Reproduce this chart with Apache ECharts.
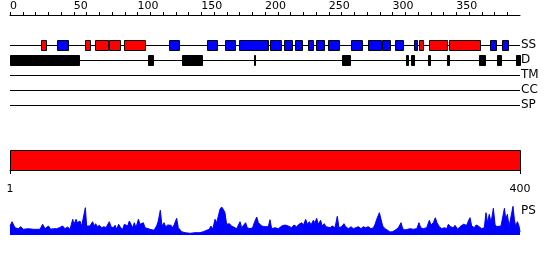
<!DOCTYPE html>
<html><head><meta charset="utf-8">
<script src="https://cdn.jsdelivr.net/npm/echarts@6/dist/echarts.min.js"></script>
<style>html,body{margin:0;padding:0;background:#fff}#c{width:550px;height:260px}</style>
</head><body><div id="c"></div>
<script>
const rulerLabels = [0, 50, 100, 150, 200, 250, 300, 350];
const rulerTicks = [0,10,20,30,40,50,60,70,80,90,100,110,120,130,140,150,160,170,180,190,200,210,220,230,240,250,260,270,280,290,300,310,320,330,340,350,360,370,380,390];
const trackNames = ['SS', 'D', 'TM', 'CC', 'SP'];
const helices = [[24.5,28],[59,63],[67,77],[77.6,86],[89.6,106],[321,324.2],[329,342.5],[344.5,369]];
const strands = [[37,45.3],[125,132.3],[154.7,162.1],[169,176.2],[179.8,202.1],[204,212.3],[215,221],[223.8,228.8],[234,237.4],[240,246],[249.6,258],[267.7,275.8],[280.8,291.2],[291.8,297.8],[302,308],[317,319],[376.7,381],[386,390.4]];
const disordered = [[0,54],[108,112],[135,150.6],[191,192.4],[260.4,266.4],[310.8,311.9],[314.3,317.1],[328,329.2],[343,344],[367.8,372.3],[381.7,385.1],[396.9,400]];
const domains = [[1,400]];
const domainAxisLabels = [1, 400];
const psPoints = [[0,9],[1.6,13.3],[3.9,7.3],[6.5,6.3],[8.4,8.3],[10.5,5.7],[14.4,6.3],[18.3,5.7],[23.5,5.7],[25.6,10.7],[27.5,6.3],[30.1,9],[31.9,5.7],[34,6.3],[36.6,6.3],[38.7,7.3],[41.3,9],[43.1,6.3],[45.2,8],[47.1,5.7],[49.2,15.7],[50.2,10.7],[51.8,15.7],[52.8,12.3],[54.9,14],[56.2,9],[57.5,10.7],[59.1,27.3],[60.1,9],[61.4,8.3],[62.7,9],[64.8,13.3],[66.1,9],[67.2,11.3],[68.5,8.3],[70.1,9.7],[71.9,7.3],[73.7,8.3],[75.3,7.3],[77.9,13.3],[79.2,8.3],[81,7.3],[82.4,9.7],[83.7,5.7],[85.2,10.7],[86.8,7.3],[88.4,5.7],[89.7,10.7],[91,11.3],[92.3,9],[93.6,14],[94.9,10.7],[96.2,7.3],[97.5,12.3],[98.8,7.3],[100.7,15.7],[102,10.7],[103.3,9],[104.6,12.3],[105.9,7.3],[107.2,5.7],[109.8,5.7],[111.1,4],[112.9,4.7],[115,9],[116.3,14],[117.9,24.7],[119.2,9],[120.8,12.3],[122.1,8.3],[123.7,10],[125,9],[126.3,9.7],[127.6,7.3],[128.9,10.7],[130.7,16.7],[132,7.3],[133.3,5.7],[134.6,3.3],[137.3,2.3],[141.2,1.7],[145.1,2.3],[149,2.3],[151.6,3.3],[154.2,4.7],[156.3,5.7],[157.6,9],[159,5.7],[160.8,15.7],[162.1,12.3],[163.4,14],[164.7,25.7],[166,28],[167.3,25.7],[168.6,22.3],[169.9,10.7],[172,11.3],[173.9,9],[175.2,7.3],[177.8,6.3],[179.1,7.3],[180.4,13.3],[181.7,7.3],[183,6.3],[184.8,12.3],[186.1,7.3],[188.2,6.3],[190.3,7.3],[191.6,12.3],[193.5,18],[194.8,12.3],[196.1,10.7],[197.4,9],[198.7,7.3],[200,8.3],[201.3,6.3],[202.6,8.3],[203.9,15.3],[205.2,6.3],[206.5,7.3],[207.8,7.3],[210.5,6.3],[213.1,9],[215.7,10],[218.3,9],[220.9,7.3],[222.7,10],[224.8,8.3],[226.7,10.7],[228.8,12.3],[230.1,9.7],[231.9,15.7],[233.2,10.7],[234.8,13.3],[236.1,10],[237.9,14.7],[239.2,12.3],[240.5,16.7],[241.8,10.7],[243.6,14.7],[244.9,9],[246.5,11.3],[247.8,8.3],[249.2,10],[251,7.3],[252.8,9],[254.9,7.3],[256.7,18.7],[258,7.3],[260.1,8.3],[261.9,11.3],[263.3,8.3],[265.4,6.3],[267.5,8.3],[269.3,6.3],[271.1,7.3],[273.2,8.3],[275.3,6.3],[277.1,8.3],[278.9,7.3],[281,8.3],[283.1,6.3],[285,7.3],[286.3,10.7],[287.6,15.7],[289.7,22.3],[291,15.7],[292.3,9],[294.1,6.3],[296.2,4.7],[298,3],[299.9,3.3],[302,4.7],[304.6,7.3],[306.7,12.3],[308,6.3],[309.8,5],[311.9,5.7],[313.7,6.3],[316.3,5.7],[319,6.3],[320.8,12.3],[322.1,7.3],[324.2,6.3],[326.8,7.3],[328.9,14.7],[330.2,10],[332,12.3],[333.6,17.3],[334.9,12.3],[336.7,8.3],[338.6,6.3],[340.7,7.3],[342.5,6.3],[343.8,10.7],[345.6,8.3],[347.7,7.3],[349,9.7],[351.1,5.7],[352.9,8.3],[354.2,9],[355.6,10.7],[356.9,12.3],[358.2,9.7],[359.5,14],[360.8,17.3],[362.1,9],[364.2,7.3],[365.5,10],[367.3,9],[368.6,8.3],[369.9,6.3],[372,7.3],[373.3,22.3],[374.6,12.3],[375.9,20.7],[377.3,12.3],[379.1,26.7],[380.4,10.7],[381.7,8.3],[383,7.3],[385.1,9],[386.4,8.3],[387.8,26.7],[388.8,15.7],[390.1,20.7],[391.4,8.3],[392.7,9],[394.5,28.7],[395.6,15.7],[396.6,8.3],[397.9,13.3],[398.8,10.7],[399.5,7.3],[400,3]];

const FONT = 'DejaVu Sans';
const chart = echarts.init(document.getElementById('c'), null, {renderer: 'canvas'});

function boxRenderer(fill, half) {
  return function (params, api) {
    const a = api.coord([api.value(0), api.value(2)]);
    const b = api.coord([api.value(1), api.value(2)]);
    const x0 = Math.round(a[0]) + 0.5;
    const x1 = Math.round(b[0]) + 0.5;
    const cy = Math.round(a[1]);
    return {
      type: 'rect',
      shape: {x: x0, y: cy - half + 0.5, width: Math.max(x1 - x0, 1), height: half * 2},
      style: {fill: fill, stroke: '#000', lineWidth: 1}
    };
  };
}
function lineRenderer(params, api) {
  const a = api.coord([api.value(0), api.value(2)]);
  const b = api.coord([api.value(1), api.value(2)]);
  const y = Math.round(a[1]) + 0.5;
  return {type: 'line', shape: {x1: a[0], y1: y, x2: b[0], y2: y}, style: {stroke: '#000', lineWidth: 1}};
}
function domainRenderer(params, api) {
  const a = api.coord([api.value(0), 1]);
  const b = api.coord([api.value(1), 0]);
  const x0 = Math.round(a[0]) + 0.5, x1 = Math.round(b[0]) + 0.5;
  const y0 = Math.round(a[1]) + 0.5, y1 = Math.round(b[1]) + 0.5;
  return {type: 'rect', shape: {x: x0, y: y0, width: x1 - x0, height: y1 - y0},
    style: {fill: '#ff0000', stroke: '#000', lineWidth: 1}};
}

const option = {
  animation: false,
  backgroundColor: '#fff',
  textStyle: {fontFamily: FONT},
  grid: [
    {left: 10, width: 510, top: 37.5, height: 75},
    {left: 10, width: 510, top: 150, height: 20},
    {left: 10, width: 510, top: 205, height: 30}
  ],
  xAxis: [
    {gridIndex: 0, type: 'value', position: 'top', offset: 22.5, min: 0, max: 400, interval: 10,
      axisLine: {show: true, lineStyle: {color: '#000', width: 1}},
      axisTick: {show: true, length: 3, customValues: rulerTicks, lineStyle: {color: '#000'}},
      axisLabel: {show: true, customValues: rulerLabels, align: 'left', margin: 3, color: '#000', fontSize: 11, fontFamily: FONT},
      splitLine: {show: false}},
    {gridIndex: 1, type: 'value', position: 'bottom', offset: 10, min: 1, max: 400,
      axisLine: {show: true, lineStyle: {color: '#000', width: 1}},
      axisTick: {show: true, length: 4, customValues: domainAxisLabels, lineStyle: {color: '#000'}},
      axisLabel: {show: true, customValues: domainAxisLabels, margin: 4, color: '#000', fontSize: 11, fontFamily: FONT},
      splitLine: {show: false}},
    {gridIndex: 2, type: 'value', min: 0, max: 400, show: false}
  ],
  yAxis: [
    {gridIndex: 0, type: 'category', data: trackNames, inverse: true, position: 'right',
      axisLine: {show: false}, axisTick: {show: false}, splitLine: {show: false},
      axisLabel: {show: true, interval: 0, hideOverlap: false, margin: 1, color: '#000', fontSize: 12, fontFamily: FONT}},
    {gridIndex: 1, type: 'value', min: 0, max: 1, show: false},
    {gridIndex: 2, type: 'value', min: 0, max: 30, show: false}
  ],
  graphic: [
    {type: 'text', left: 521, top: 205, style: {text: 'PS', fill: '#000', font: '12px "DejaVu Sans"'}}
  ],
  series: [
    {type: 'custom', xAxisIndex: 0, yAxisIndex: 0, z: 1, renderItem: lineRenderer,
      encode: {x: [0, 1], y: 2}, data: trackNames.map((n, i) => [0, 400, i])},
    {type: 'custom', xAxisIndex: 0, yAxisIndex: 0, z: 2, renderItem: boxRenderer('#ff0000', 5),
      encode: {x: [0, 1], y: 2}, data: helices.map(d => [d[0], d[1], 0])},
    {type: 'custom', xAxisIndex: 0, yAxisIndex: 0, z: 2, renderItem: boxRenderer('#0000ff', 5),
      encode: {x: [0, 1], y: 2}, data: strands.map(d => [d[0], d[1], 0])},
    {type: 'custom', xAxisIndex: 0, yAxisIndex: 0, z: 2, renderItem: boxRenderer('#000000', 5),
      encode: {x: [0, 1], y: 2}, data: disordered.map(d => [d[0], d[1], 1])},
    {type: 'custom', xAxisIndex: 1, yAxisIndex: 1, renderItem: domainRenderer,
      encode: {x: [0, 1]}, data: domains},
    {type: 'line', xAxisIndex: 2, yAxisIndex: 2, data: psPoints, symbol: 'none', smooth: false,
      lineStyle: {color: '#0000ff', width: 1}, areaStyle: {color: '#0000ff', opacity: 1},
      itemStyle: {color: '#0000ff'}, sampling: null}
  ]
};
chart.setOption(option);
</script>
</body></html>
